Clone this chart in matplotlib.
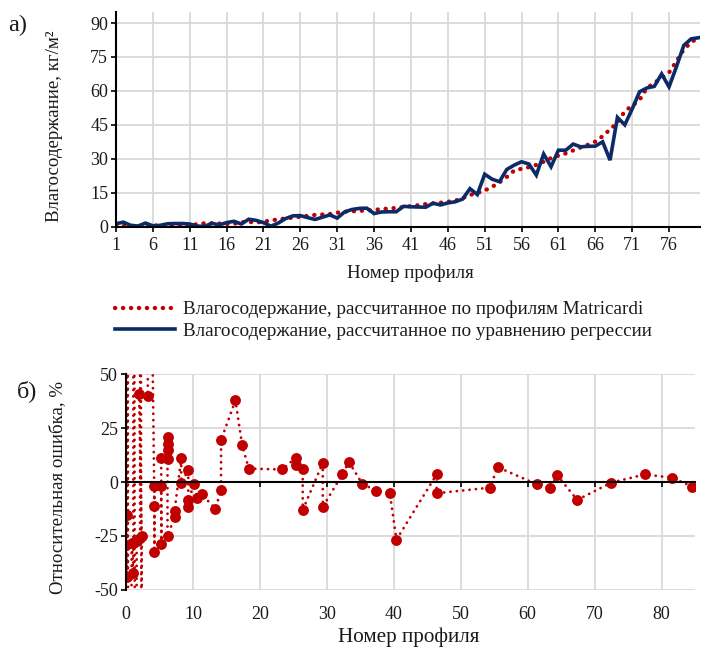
import numpy as np
import matplotlib
matplotlib.use('Agg')
import matplotlib.pyplot as plt
from matplotlib.lines import Line2D

plt.rcParams['font.family'] = ['Liberation Serif', 'DejaVu Serif']
plt.rcParams['axes.unicode_minus'] = False

# --- panel a) : water content per profile ---
profiles = np.arange(1, 81)
matricardi = [0.3, 0.4, 0.3, 0.2, 0.1, 0.4, 0.7, 0.7, 0.6, 0.6,
              0.6, 1.1, 1.5, 1.5, 1.4, 1.2, 1.3, 2.0, 2.1, 1.9,
              2.2, 2.8, 3.2, 3.7, 4.0, 4.4, 4.8, 5.2, 5.4, 5.6,
              6.2, 6.6, 6.8, 7.0, 7.2, 7.4, 7.8, 8.0, 8.3, 8.7,
              9.1, 9.5, 10.0, 10.3, 10.6, 11.0, 11.5, 12.6, 14.0, 14.9,
              16.0, 17.6, 19.6, 22.0, 24.8, 25.6, 26.3, 27.3, 28.7, 30.3,
              31.4, 32.4, 33.7, 35.0, 36.2, 37.6, 40.0, 43.0, 46.0, 51.0,
              53.5, 56.0, 61.3, 63.5, 65.8, 68.1, 73.1, 78.3, 81.5, 83.5]
regression = [1.3, 2.0, 0.6, 0.3, 1.6, 0.4, 0.6, 1.3, 1.4, 1.4,
              1.2, 0.3, 0.1, 1.5, 0.8, 1.8, 2.4, 1.2, 3.3, 2.8,
              1.8, 0.2, 1.6, 3.6, 4.8, 4.9, 4.0, 3.2, 4.2, 5.2,
              3.8, 6.5, 7.6, 8.1, 8.2, 5.8, 6.5, 6.6, 6.6, 9.0,
              8.8, 8.7, 8.6, 10.4, 9.6, 10.5, 11.0, 12.2, 16.8, 14.2,
              23.2, 21.0, 19.9, 25.3, 27.2, 28.7, 27.7, 22.8, 32.1, 26.5,
              33.8, 33.8, 36.5, 35.3, 35.5, 35.6, 37.5, 29.4, 48.3, 45.0,
              52.0, 59.6, 61.3, 62.0, 67.5, 61.8, 70.6, 80.1, 83.0, 83.5]

# --- panel б) : relative error (points in series order) ---
err_x = [0.1, 0.0, 0.2, 0.1, 0.45, 0.85, 1.1, 1.1, 1.45, 1.6,
         2.1, 2.1, 2.4, 2.35, 1.95, 3.25, 3.3, 4.25, 4.25, 4.25,
         5.25, 5.3, 5.25, 6.2, 6.2, 6.2, 6.2, 6.2, 7.25, 7.25,
         8.25, 8.25, 9.3, 9.3, 9.3, 10.2, 10.6, 11.3, 13.35, 14.2,
         14.2, 16.35, 17.35, 18.35, 23.35, 25.35, 25.35, 26.4, 26.4, 29.4,
         29.4, 32.3, 33.3, 35.3, 37.4, 39.4, 40.4, 46.4, 46.4, 54.4,
         55.5, 61.4, 63.4, 64.4, 67.4, 72.5, 77.5, 81.5, 84.6]
err_y = [-15.2, -29.2, -44.0, 420, -380, -28.3, -42.3, 380, -360, -27.2,
         -25.7, 300, -260, -24.9, 40.8, 39.7, 220, -11.0, -32.3, -1.8,
         -1.8, -28.8, 10.9, 10.5, 20.8, 17.4, 14.6, -24.9, -16.4, -13.4,
         10.9, -0.3, 5.4, -11.5, -8.4, -0.8, -7.4, -5.7, -12.3, -3.8,
         19.4, 37.8, 17.0, 6.2, 5.8, 11.2, 7.7, 5.8, -13.0, 8.9,
         -11.5, 3.5, 9.2, -0.8, -4.1, -4.9, -26.7, 3.5, -5.2, -2.6,
         6.9, -1.1, -2.9, 3.2, -8.3, -0.3, 3.5, 2.0, -2.1]

RED = '#c00000'
BLUE = '#0b2a66'
GRID = '#d9d9d9'
TXT = '#1a1a1a'
FS = 13

W, H = 702, 648
fig = plt.figure(figsize=(W / 100, H / 100), dpi=100)


def style_axes(ax):
    ax.grid(True, color=GRID, lw=1.3)
    ax.set_axisbelow(True)
    for s in ['top', 'right']:
        ax.spines[s].set_visible(False)
    ax.spines['left'].set_linewidth(1.5)
    ax.tick_params(direction='out', length=3.6, width=1.2, labelsize=FS,
                   labelcolor=TXT, pad=2)


# top chart
ax1 = fig.add_axes([116 / W, 1 - 226.7 / H, 584 / W, 215 / H])
style_axes(ax1)
ax1.spines['bottom'].set_linewidth(1.5)
ax1.plot(profiles, matricardi, color=RED, lw=3.1, dashes=(0.05, 1.8),
         dash_capstyle='round', solid_capstyle='round')
ax1.plot(profiles, regression, color=BLUE, lw=2.6, solid_joinstyle='miter')
ax1.set_xlim(1, 80.2)
ax1.set_ylim(0, 95)
ax1.set_xticks(np.arange(1, 80, 5))
ax1.set_yticks(np.arange(0, 91, 15))
ax1.tick_params(axis='x', pad=4)

fig.text(55 / W, 1 - 126 / H, 'Влагосодержание, кг/м²', rotation=90,
         ha='center', va='center', fontsize=13.6, color=TXT)
fig.text(410 / W, 1 - 273 / H, 'Номер профиля', ha='center', va='center',
         fontsize=13.6, color=TXT)
fig.text(18 / W, 1 - 25 / H, 'а)', ha='center', va='center', fontsize=17.5,
         color=TXT)

handles = [Line2D([], [], color=RED, lw=3.1, dashes=(0.05, 1.8),
                  dash_capstyle='round'),
           Line2D([], [], color=BLUE, lw=2.6)]
labels = ['Влагосодержание, рассчитанное по профилям Matricardi',
          'Влагосодержание, рассчитанное по уравнению регрессии']
fig.legend(handles, labels, loc='upper left',
           bbox_to_anchor=(115 / W, 1 - 301 / H), frameon=False, fontsize=13.8,
           handlelength=3.15, handletextpad=0.4, labelspacing=0.22,
           borderpad=0, borderaxespad=0, labelcolor=TXT)

# bottom chart
ax2 = fig.add_axes([126 / W, 1 - 590 / H, 569 / W, 216 / H])
style_axes(ax2)
ax2.spines['bottom'].set_position(('data', 0))
ax2.spines['bottom'].set_linewidth(1.5)
ax2.plot(err_x, err_y, color=RED, lw=2.0, dashes=(0.05, 2.25),
         dash_capstyle='round')
ax2.plot(err_x, err_y, 'o', color=RED, ms=6.8, lw=0)
ax2.set_xlim(0, 85)
ax2.set_ylim(-50, 50)
ax2.set_xticks(np.arange(0, 81, 10))
ax2.set_yticks(np.arange(-50, 51, 25))
ax2.tick_params(axis='x', pad=86)

fig.text(58 / W, 1 - 488 / H, 'Относительная ошибка, %', rotation=90,
         ha='center', va='center', fontsize=13.6, color=TXT)
fig.text(409 / W, 1 - 637 / H, 'Номер профиля', ha='center', va='center',
         fontsize=15.2, color=TXT)
fig.text(27 / W, 1 - 391 / H, 'б)', ha='center', va='center', fontsize=17.5,
         color=TXT)

fig.savefig('out.png', dpi=100)
